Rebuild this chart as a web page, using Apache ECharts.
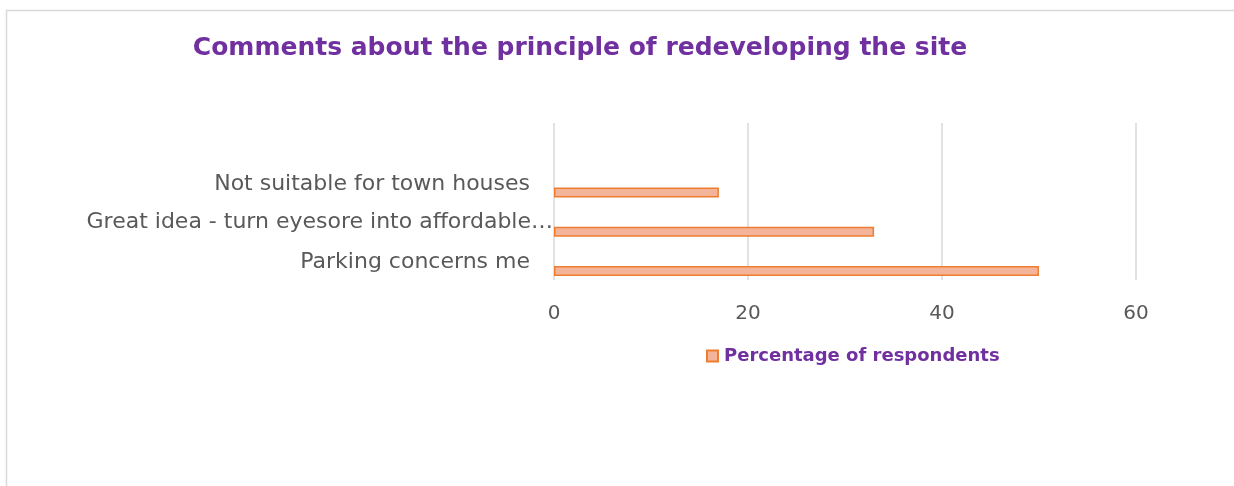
<!DOCTYPE html>
<html>
<head>
<meta charset="utf-8">
<script src="https://cdn.jsdelivr.net/npm/echarts@6/dist/echarts.min.js"></script>
<style>
html,body{margin:0;padding:0;background:#fff;}
#chart{width:1234px;height:486px;}
</style>
</head>
<body>
<div id="chart"></div>
<script>
const titleText = 'Comments about the principle of redeveloping the site';
const seriesName = 'Percentage of respondents';
// bottom-to-top category order (Excel style), top category is blank
const categories = ['Parking concerns me', 'Great idea - turn eyesore into affordable\u2026', 'Not suitable for town houses', ''];
const values = [50, 33, 17, null];
const xTicks = [0, 20, 40, 60];

const purple = '#7030A0';
const gray = '#595959';
const font = '"DejaVu Sans", "Noto Sans", sans-serif';

const chart = echarts.init(document.getElementById('chart'));
chart.setOption({
  animation: false,
  backgroundColor: '#fff',
  textStyle: { fontFamily: font },
  graphic: [{
    type: 'rect', silent: true,
    shape: { x: 6.5, y: 10.5, width: 1400, height: 700 },
    style: { fill: 'none', stroke: '#d9d9d9', lineWidth: 1.5 }
  }],
  title: {
    text: titleText,
    left: 575, top: 31, textAlign: 'center',
    textStyle: { color: purple, fontSize: 25, fontWeight: 'bold', fontFamily: font }
  },
  legend: {
    left: 701, top: 342,
    icon: 'rect', itemWidth: 11, itemHeight: 11, itemGap: 6,
    textStyle: { color: purple, fontSize: 18, fontWeight: 'bold', fontFamily: font, padding: [0, 0, 0, 1] },
    data: [seriesName]
  },
  grid: [
    { left: 554, right: 98, top: 123, height: 157 },
    { left: 554, right: 98, top: 133.5, height: 157 }
  ],
  xAxis: [
    {
      gridIndex: 0, type: 'value', min: xTicks[0], max: xTicks[xTicks.length - 1], interval: 20,
      axisLine: { show: false }, axisTick: { show: false },
      splitLine: { lineStyle: { color: '#d9d9d9', width: 1.5 } },
      axisLabel: { color: gray, fontSize: 20, margin: 24, fontFamily: font }
    },
    {
      gridIndex: 1, type: 'value', min: xTicks[0], max: xTicks[xTicks.length - 1], interval: 20,
      show: false, splitLine: { show: false }
    }
  ],
  yAxis: [
    {
      gridIndex: 0, type: 'category', data: categories,
      axisLine: { show: false }, axisTick: { show: false },
      axisLabel: {
        color: gray, fontSize: 22, margin: 1, fontFamily: font,
        formatter: function (v) { return v.length > 35 ? '{b|' + v + '}' : '{a|' + v + '}'; },
        rich: {
          a: { color: gray, fontSize: 22, fontFamily: font, padding: [4, 23, 0, 0] },
          b: { color: gray, fontSize: 22, fontFamily: font, padding: [2, 0, 0, 0] }
        }
      }
    },
    {
      gridIndex: 1, type: 'category', data: categories, show: false
    }
  ],
  series: [{
    name: seriesName, type: 'bar', xAxisIndex: 1, yAxisIndex: 1,
    data: values, barWidth: 10,
    itemStyle: { color: '#F4B49A', borderColor: '#ED7D31', borderWidth: 1.5 }
  }]
});
</script>
</body>
</html>
